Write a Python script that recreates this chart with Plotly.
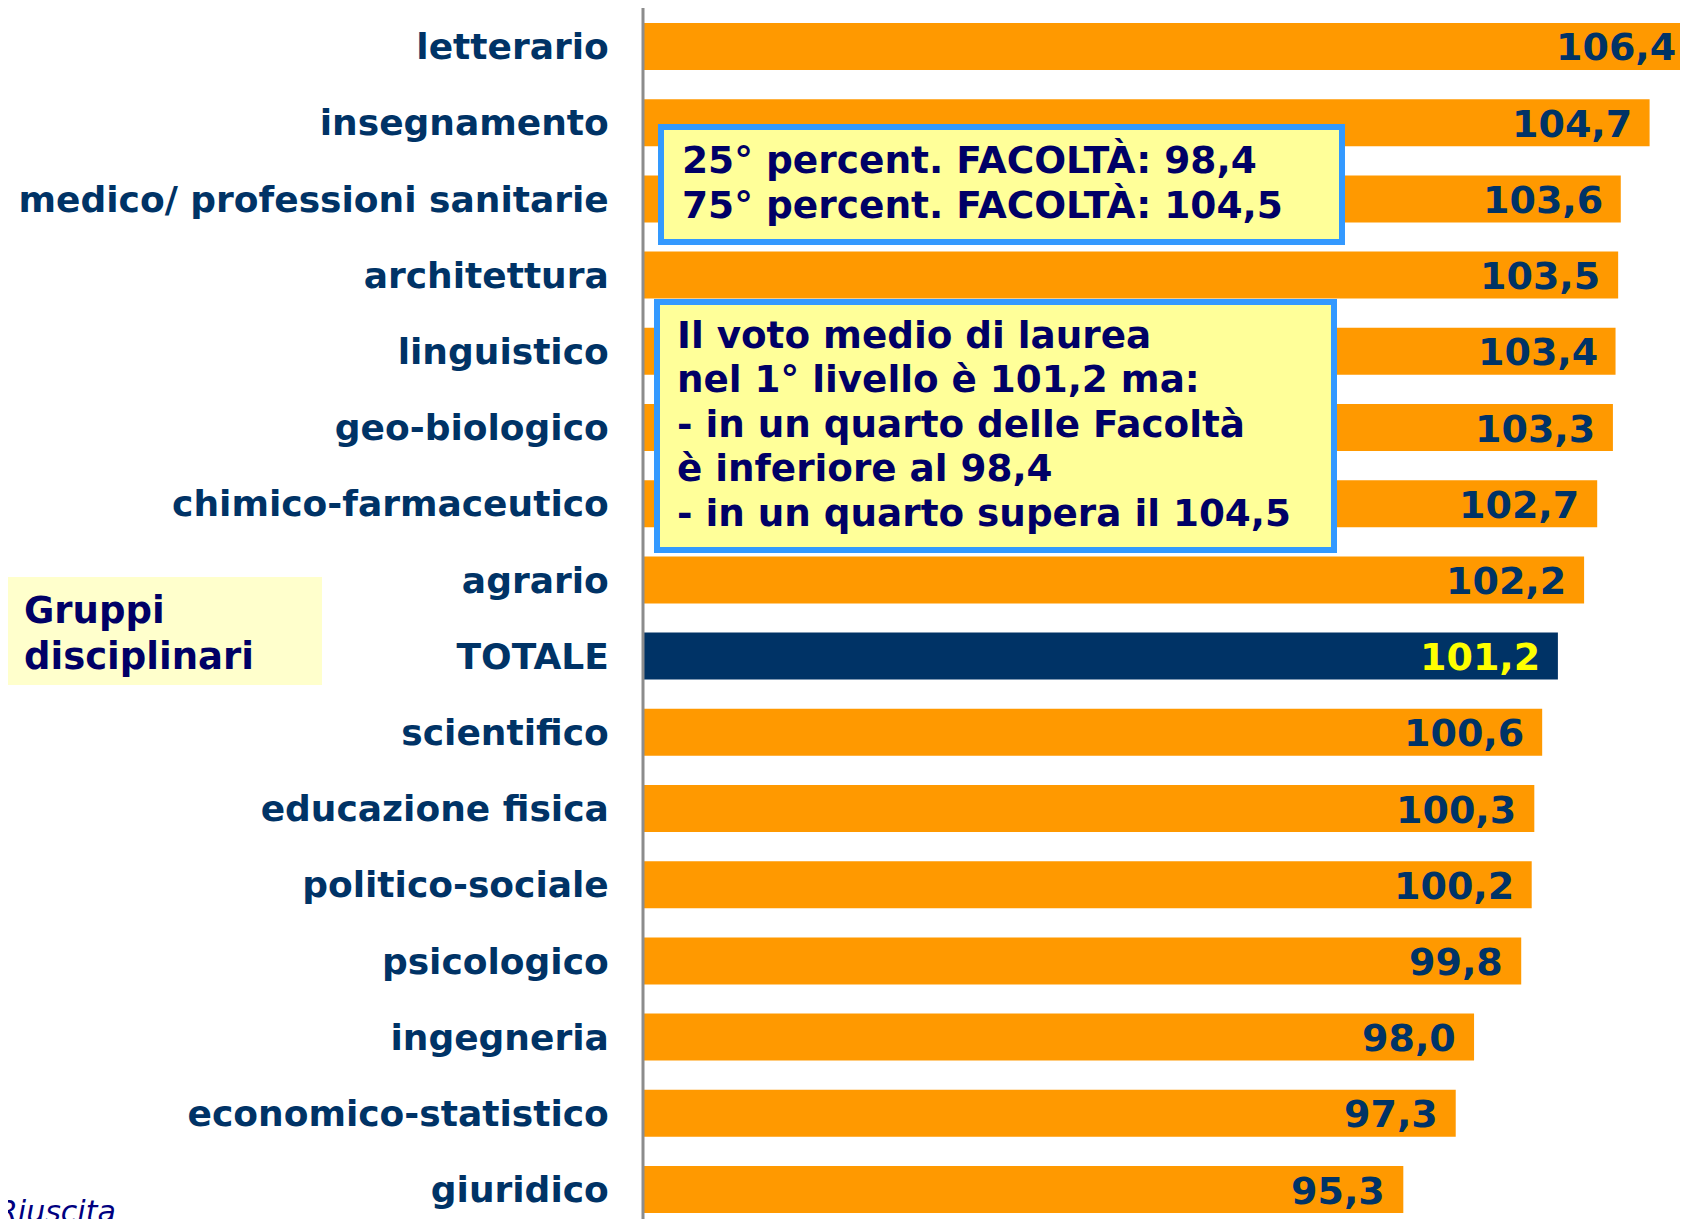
import plotly.graph_objects as go

categories = ["letterario", "insegnamento", "medico/ professioni sanitarie", "architettura",
              "linguistico", "geo-biologico", "chimico-farmaceutico", "agrario", "TOTALE",
              "scientifico", "educazione fisica", "politico-sociale", "psicologico",
              "ingegneria", "economico-statistico", "giuridico"]
values = [106.4, 104.7, 103.6, 103.5, 103.4, 103.3, 102.7, 102.2, 101.2,
          100.6, 100.3, 100.2, 99.8, 98.0, 97.3, 95.3]

box1_lines = ["25° percent. FACOLTÀ: 98,4", "75° percent. FACOLTÀ: 104,5"]
box2_lines = ["Il voto medio di laurea", "nel 1° livello è 101,2 ma:",
              "- in un quarto delle Facoltà", "è inferiore al 98,4",
              "- in un quarto supera il 104,5"]
group_lines = ["Gruppi", "disciplinari"]
footer = "Riuscita"

OFF = 8            # page body margin
W, H = 1688 - OFF, 1219 - OFF
L = 643 - OFF
PW = W - L

ORANGE = "#FF9900"
NAVY = "#003366"
DARK = "#000066"
FONT = "DejaVu Sans"

colors = [NAVY if c == "TOTALE" else ORANGE for c in categories]
label_colors = ["#FFFF00" if c == "TOTALE" else NAVY for c in categories]

fig = go.Figure()
fig.add_trace(go.Bar(
    y=categories, x=values, orientation="h",
    marker=dict(color=colors, line=dict(width=0)),
    hoverinfo="skip",
))


def px_x(p):
    # page pixel -> paper x
    return (p - 643) / PW


def px_y(p):
    # page pixel -> paper y
    return 1 - (p - OFF) / H


annotations = []
for c, v, lc in zip(categories, values, label_colors):
    annotations.append(dict(
        x=v - 1, y=c, xref="x", yref="y",
        ax=v, axref="x", ay=0, ayref="pixel",
        showarrow=True, arrowcolor="rgba(0,0,0,0)", arrowwidth=0.1, arrowhead=0,
        text=f"{v:.1f}".replace(".", ","),
        xanchor="right", yanchor="middle", xshift=-16, yshift=-1,
        font=dict(family=FONT, size=38, color=lc, weight="bold"),
    ))

shapes = [
    # axis line
    dict(type="line", xref="paper", yref="paper", x0=0, x1=0, y0=0, y1=1,
         line=dict(color="#8c8c8c", width=3), layer="above"),
    # box 1
    dict(type="rect", xref="paper", yref="paper",
         x0=px_x(661), x1=px_x(1342), y0=px_y(127), y1=px_y(242),
         fillcolor="#FFFF99", line=dict(color="#3399FF", width=6), layer="above"),
    # box 2
    dict(type="rect", xref="paper", yref="paper",
         x0=px_x(657), x1=px_x(1334), y0=px_y(302), y1=px_y(550),
         fillcolor="#FFFF99", line=dict(color="#3399FF", width=6), layer="above"),
    # gruppi box
    dict(type="rect", xref="paper", yref="paper",
         x0=px_x(4), x1=px_x(322), y0=px_y(577), y1=px_y(685),
         fillcolor="#FFFFCC", line=dict(width=0), layer="above"),
]


def add_lines(lines, x_page, y_pages, size):
    for t, yp in zip(lines, y_pages):
        annotations.append(dict(
            xref="paper", yref="paper", x=px_x(x_page), y=px_y(yp),
            xanchor="left", yanchor="middle", align="left", showarrow=False,
            text=t, font=dict(family=FONT, size=size, color=DARK, weight="bold"),
        ))


add_lines(box1_lines, 680, [160, 205], 37.5)
add_lines(box2_lines, 675, [335, 379, 424, 468, 513], 37.3)
add_lines(group_lines, 22, [610, 656], 37)

annotations.append(dict(
    xref="paper", yref="paper", x=px_x(-5), y=px_y(1192),
    xanchor="left", yanchor="top", align="left", showarrow=False,
    text=footer,
    font=dict(family=FONT, size=30, color="#000080", style="italic"),
))

top = -(46.5 - OFF) / 76.2
fig.update_layout(
    width=W, height=H,
    margin=dict(l=L, r=0, t=0, b=0, pad=0),
    paper_bgcolor="white", plot_bgcolor="white",
    bargap=0.383,
    showlegend=False,
    xaxis=dict(range=[66.28, 66.28 + PW / 26.2], showgrid=False, zeroline=False,
               showticklabels=False, showline=False, fixedrange=True),
    yaxis=dict(type="category", categoryorder="array", categoryarray=categories,
               autorange=False, range=[top + H / 76.2, top],
               showgrid=False, zeroline=False, showline=False,
               ticks="outside", ticklen=26, tickcolor="rgba(0,0,0,0)",
               tickfont=dict(family=FONT, size=36, color=NAVY, weight="bold")),
    shapes=shapes,
    annotations=annotations,
)

fig.write_html("out.html")
